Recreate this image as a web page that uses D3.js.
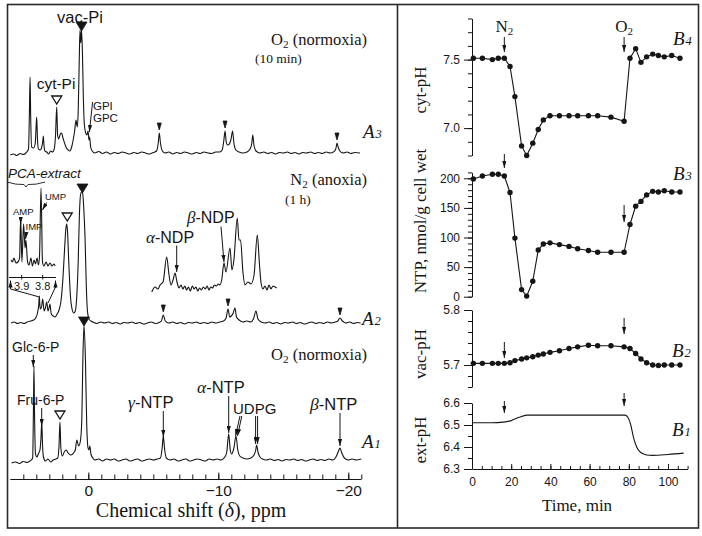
<!DOCTYPE html>
<html><head><meta charset="utf-8">
<script src="https://cdn.jsdelivr.net/npm/d3@7"></script>
<style>body{margin:0;background:#fff}svg{display:block}</style>
</head><body>
<svg id="c" width="702" height="536"></svg>
<script>
// ---------------- DATA ----------------
// 31P NMR spectra: [chemical shift (ppm), intensity (a.u.)]
const specA3 = [[6.0,-2],[5.75,-1],[5.5,-2.5],[5.25,-0.5],[5.0,-1.5],[4.8,0],[4.68,2],
 [4.6,4],[4.53,40],[4.48,76],[4.43,35],[4.36,6],[4.2,5],[4.08,10],[4.02,25],[3.97,36],[3.91,14],[3.84,4],
 [3.7,3],[3.6,5],[3.5,12],[3.46,17],[3.41,8],[3.34,2],[3.2,1],[3.05,-1],[2.9,2],[2.75,1],[2.62,4],
 [2.52,18],[2.43,46],[2.36,18],[2.28,14],[2.15,19],[2.05,20],[1.95,15],[1.85,11],[1.72,6],[1.55,3],[1.42,2],
 [1.28,6],[1.15,14],[1.05,22],[0.95,33],[0.85,26],[0.78,40],[0.7,90],[0.64,123],[0.58,110],[0.52,123],
 [0.45,100],[0.38,55],[0.3,28],[0.2,20],[0.1,18],[0.02,22],[-0.05,13],[-0.1,16],[-0.18,6],[-0.3,2],
 [-0.5,0],[-0.8,1.5],[-1.1,-0.5],[-1.4,1],[-1.7,-1],[-2.0,0.5],[-2.3,-0.5],[-2.6,1],[-2.9,0],[-3.2,-1],
 [-3.5,0.5],[-3.8,-0.5],[-4.1,1],[-4.4,0],[-4.7,-1],[-5.0,0.5],[-5.25,2],[-5.38,10],[-5.46,20],[-5.55,10],[-5.7,2],
 [-5.9,0],[-6.2,1],[-6.5,-1],[-6.8,0.5],[-7.1,-0.5],[-7.4,1],[-7.7,0],[-8.0,-1],[-8.3,0.5],[-8.6,-0.5],
 [-8.9,1],[-9.2,0],[-9.5,-0.5],[-9.8,1],[-10.1,1],[-10.3,3],[-10.42,12],[-10.52,22],[-10.6,12],[-10.7,8],
 [-10.85,9],[-10.98,14],[-11.1,22],[-11.2,10],[-11.35,3],[-11.6,1],[-11.9,0],[-12.2,1],[-12.45,4],[-12.58,10],
 [-12.65,18],[-12.74,8],[-12.9,2],[-13.2,0],[-13.5,1],[-13.8,-0.5],[-14.1,0.5],[-14.4,-1],[-14.7,0.5],[-15.0,0],
 [-15.3,1],[-15.6,-0.5],[-15.9,0.5],[-16.2,-1],[-16.5,0.5],[-16.8,0],[-17.1,1],[-17.4,-0.5],[-17.7,0.5],
 [-18.0,-0.5],[-18.3,1],[-18.6,0],[-18.85,1],[-19.0,3],[-19.07,6],[-19.13,10],[-19.22,6],[-19.35,2],
 [-19.6,0],[-19.9,1],[-20.2,-0.5],[-20.5,0.5],[-20.9,0]];

const specA2 = [[5.95,0],[5.7,1],[5.45,-0.5],[5.2,0.5],[4.95,-0.5],[4.7,1],[4.45,2],[4.2,3],
 [4.05,5],[3.88,12],[3.8,20],[3.77,27],[3.7,14],[3.6,16],[3.5,24],[3.4,12],[3.3,15],[3.2,21],[3.1,12],
 [3.02,15],[2.95,19],[2.85,9],[2.7,7],[2.55,6],[2.4,9],[2.25,13],[2.1,22],[1.95,45],[1.82,75],[1.72,95],
 [1.66,99],[1.6,92],[1.5,60],[1.38,28],[1.25,14],[1.12,10],[1.0,12],[0.88,28],[0.78,60],[0.68,110],
 [0.6,128],[0.52,131],[0.44,130],[0.35,115],[0.25,85],[0.15,35],[0.05,10],[-0.1,3],
 [-0.35,1],[-0.65,-0.5],[-0.95,1],[-1.25,0],[-1.55,1],[-1.85,-0.5],[-2.15,0.5],[-2.45,-1],[-2.75,0.5],
 [-3.05,0],[-3.35,1],[-3.65,-0.5],[-3.95,0.5],[-4.25,-1],[-4.55,0],[-4.85,1],[-5.15,-0.5],[-5.45,0.5],
 [-5.62,2],[-5.77,8],[-5.92,2],[-6.2,0],[-6.5,1],[-6.8,-0.5],[-7.1,0.5],[-7.4,-1],[-7.7,0.5],[-8.0,0],
 [-8.3,1],[-8.6,-0.5],[-8.9,0.5],[-9.2,-0.5],[-9.5,1],[-9.8,0],[-10.1,1],[-10.4,2],[-10.6,5],[-10.75,14],
 [-10.88,6],[-11.0,7],[-11.15,10],[-11.28,15],[-11.4,6],[-11.6,3],[-11.9,1],[-12.2,2],[-12.5,1],[-12.7,4],
 [-12.9,12],[-13.05,4],[-13.3,1],[-13.6,0],[-13.9,1],[-14.2,-0.5],[-14.5,0.5],[-14.8,-1],[-15.1,0.5],
 [-15.4,0],[-15.7,1],[-16.0,-0.5],[-16.3,0.5],[-16.6,-1],[-16.9,0],[-17.2,1],[-17.5,-0.5],[-17.8,0.5],
 [-18.1,-0.5],[-18.4,1],[-18.7,0],[-19.0,1],[-19.2,2],[-19.36,5],[-19.55,2],[-19.8,0],[-20.1,1],
 [-20.4,-0.5],[-20.7,0.5],[-20.95,0]];

const specA1 = [[5.9,-3],[5.6,-2],[5.3,-3.5],[5.0,-1.5],[4.7,-2.5],[4.5,-1],[4.38,0],
 [4.28,2],[4.22,50],[4.18,94],[4.14,50],[4.06,6],[3.95,3],[3.85,6],[3.72,10],[3.64,22],[3.58,38],
 [3.52,15],[3.45,3],[3.3,-1],[3.1,1],[2.9,-2],[2.7,0],[2.5,1],[2.35,2],[2.25,15],[2.18,38],[2.11,12],
 [2.0,4],[1.85,8],[1.7,10],[1.55,7],[1.35,5],[1.2,6],[1.0,10],[0.88,20],[0.75,14],[0.62,18],
 [0.5,40],[0.42,100],[0.33,135],[0.22,100],[0.12,35],[0.02,12],[-0.05,10],[-0.12,14],[-0.2,6],
 [-0.35,2],[-0.5,0],[-0.8,1],[-1.1,-1],[-1.4,1],[-1.7,0],[-2.0,1],[-2.3,-1],[-2.6,0],[-2.9,1],[-3.2,-1],
 [-3.5,0],[-3.8,1],[-4.1,-1],[-4.4,0],[-4.7,1],[-5.0,0],[-5.3,1],[-5.55,2],[-5.68,12],[-5.77,24],
 [-5.86,12],[-6.0,2],[-6.3,0],[-6.6,1],[-6.9,-1],[-7.2,0],[-7.5,1],[-7.8,-1],[-8.1,0],[-8.4,1],[-8.7,0],
 [-9.0,-1],[-9.3,1],[-9.6,0],[-9.9,1],[-10.2,0],[-10.5,3],[-10.65,8],[-10.8,26],[-10.92,10],[-11.02,6],
 [-11.2,12],[-11.36,24],[-11.5,10],[-11.65,4],[-11.9,2],[-12.2,1],[-12.5,2],[-12.75,5],[-12.88,10],
 [-12.95,15],[-13.05,8],[-13.2,3],[-13.4,1],[-13.7,0],[-14.0,1],[-14.3,-0.5],[-14.6,0.5],[-14.9,-1],
 [-15.2,0.5],[-15.5,0],[-15.8,1],[-16.1,-0.5],[-16.4,0.5],[-16.7,-1],[-17.0,0],[-17.3,1],[-17.6,-0.5],
 [-17.9,0.5],[-18.2,-0.5],[-18.5,1],[-18.8,0],[-19.05,3],[-19.25,9],[-19.36,12],[-19.5,7],[-19.7,2],
 [-20.0,0],[-20.3,1],[-20.6,0],[-21.0,1]];

// expanded NDP region of the anoxic spectrum
const insetNDP = [[-4.88,-2],[-5.13,3],[-5.36,1],[-5.52,5],[-5.75,8],[-6.03,33],[-6.21,15],[-6.36,5],
 [-6.52,10],[-6.67,17],[-6.82,8],[-6.98,2],[-7.13,5],[-7.28,1],[-7.42,4],[-7.56,0],[-7.7,3],[-7.85,-1],
 [-8.0,4],[-8.14,1],[-8.28,3],[-8.42,-1],[-8.56,2],[-8.7,0],[-8.85,3],[-9.0,1],[-9.14,4],[-9.28,0],
 [-9.42,3],[-9.56,2],[-9.7,5],[-9.85,4],[-10.0,6],[-10.13,5],[-10.26,10],[-10.44,27],[-10.59,18],
 [-10.9,42],[-11.05,20],[-11.2,30],[-11.46,72],[-11.59,50],[-11.71,50],[-11.9,17],[-12.05,5],[-12.28,8],
 [-12.52,6],[-12.75,15],[-13.0,55],[-13.17,25],[-13.28,8],[-13.44,1],[-13.59,4],[-13.75,0],[-13.9,5],
 [-14.05,1],[-14.2,4],[-14.49,2]];

// PCA-extract inset (3.95 - 3.74 ppm)
const insetPCA = [[3.951,8],[3.944,6],[3.937,10],[3.927,5],[3.918,6],[3.910,10],[3.905,50],[3.899,6],
 [3.891,44],[3.884,20],[3.880,28],[3.872,6],[3.865,3],[3.856,10],[3.849,2],[3.841,8],[3.834,4],
 [3.827,10],[3.820,3],[3.815,13],[3.808,80],[3.801,6],[3.794,2],[3.784,6],[3.775,2],[3.765,5],
 [3.756,2],[3.746,4],[3.741,2]];

const ppmMajorTicks = [0, -10, -20];
const ppmTickLabels = ["0", "\u221210", "\u221220"];
const pcaTicks = [3.9, 3.8];
const pcaTickLabels = ["3.9", "3.8"];

// Time course (min)
const times  = [0.7,5.3,10.4,13.4,16.5,19.4,21.9,25.3,27.9,31.0,33.8,36.4,39.8,44.6,49.5,53.9,59.4,64.1,70.9,77.6,80.6,83.5,86.2,89.1,92.2,95.1,98.1,101.9,106.1];
const cytPH  = [7.51,7.51,7.50,7.51,7.51,7.45,7.23,6.87,6.80,6.89,6.99,7.06,7.09,7.09,7.09,7.09,7.09,7.09,7.08,7.05,7.51,7.58,7.48,7.52,7.54,7.53,7.52,7.53,7.51];
const ntp    = [199,204,207,207,204,176,99,12,1,26,79,89,91,88,85,81,78,75,75,75,122,153,161,172,178,177,179,177,177];
const vacPH  = [5.703,5.703,5.703,5.703,5.703,5.704,5.708,5.711,5.713,5.715,5.718,5.720,5.723,5.726,5.730,5.733,5.736,5.735,5.735,5.733,5.730,5.721,5.711,5.704,5.700,5.699,5.700,5.700,5.700];
const extTimes = [0,10,16,20,24,28,40,60,78,79.5,81,82.5,84,85.5,87,89,92,100,108];
const extPH    = [6.51,6.51,6.513,6.52,6.535,6.545,6.545,6.545,6.545,6.535,6.50,6.44,6.40,6.38,6.37,6.364,6.362,6.366,6.372];
const gasTimes = [16.5, 77.6];
const timeTicks = [0,20,40,60,80,100];
const cytTicks = [7.0, 7.5], ntpTicks = [0,50,100,150,200], vacTicks = [5.7,5.8], extTicks = [6.3,6.4,6.5,6.6];

// ---------------- DRAW ----------------
const svg = d3.select('#c');
const SANS = '"Liberation Sans", Arial, Helvetica, sans-serif';
const SERIF = '"Liberation Serif", "Times New Roman", serif';
const INK = '#151515';

const defs = svg.append('defs');
defs.append('marker').attr('id','ah').attr('viewBox','0 0 10 10').attr('refX',10).attr('refY',5)
  .attr('markerWidth',7).attr('markerHeight',4.2).attr('markerUnits','userSpaceOnUse')
  .attr('orient','auto').attr('preserveAspectRatio','none')
  .append('path').attr('d','M0,0L10,5L0,10Z').attr('fill',INK);

function arrow(x1,y1,x2,y2){
  svg.append('line').attr('x1',x1).attr('y1',y1).attr('x2',x2).attr('y2',y2)
    .attr('stroke',INK).attr('stroke-width',1).attr('marker-end','url(#ah)');
}
function text(x,y,str,opt={}){
  const t = svg.append('text').attr('x',x).attr('y',y)
    .attr('font-family',opt.family||SANS).attr('font-size',opt.size||14)
    .attr('fill',INK).attr('text-anchor',opt.anchor||'start');
  if(opt.italic) t.attr('font-style','italic');
  if(opt.ls) t.attr('letter-spacing',opt.ls);
  t.text(str);
  return t;
}
function greekLabel(x,y,greek,rest,size,anchor){
  const t = svg.append('text').attr('x',x).attr('y',y).attr('font-family',SANS)
    .attr('font-size',size).attr('fill',INK).attr('text-anchor',anchor||'start');
  t.append('tspan').attr('font-family',SERIF).attr('font-style','italic').attr('font-size',size+1).text(greek);
  t.append('tspan').text(rest);
}
function gasLabel(xEnd,y,gas,rest,size){
  const t = svg.append('text').attr('x',xEnd).attr('y',y).attr('font-family',SERIF)
    .attr('font-size',size).attr('fill',INK).attr('text-anchor','end');
  t.append('tspan').text(gas);
  t.append('tspan').attr('font-size',size*0.68).attr('dy',3).text('2');
  t.append('tspan').attr('dy',-3).text(rest);
}
function panelLabel(x,y,L,n){
  const t = svg.append('text').attr('x',x).attr('y',y).attr('font-family',SERIF)
    .attr('font-style','italic').attr('fill',INK).attr('font-size',19);
  t.append('tspan').text(L);
  t.append('tspan').attr('font-size',12.5).attr('dx',1).text(n);
}

// frame
svg.append('rect').attr('x',7.5).attr('y',4.5).attr('width',691).attr('height',523.5)
  .attr('fill','none').attr('stroke','#2a2a2a').attr('stroke-width',1.6);
svg.append('line').attr('x1',397.5).attr('x2',397.5).attr('y1',4.5).attr('y2',528)
  .attr('stroke','#2a2a2a').attr('stroke-width',1.6);

// ===== LEFT PANEL: spectra =====
const xS = d3.scaleLinear().domain([6,-21]).range([10.3,361.3]);
const yA3 = d3.scaleLinear().domain([0,100]).range([153,53]);
const yA2 = d3.scaleLinear().domain([0,100]).range([323,223]);
const yA1 = d3.scaleLinear().domain([0,100]).range([460,360]);

function spec(data,xs,ys){
  svg.append('path').datum(data)
    .attr('d', d3.line().x(d=>xs(d[0])).y(d=>ys(d[1])).curve(d3.curveMonotoneX))
    .attr('fill','none').attr('stroke',INK).attr('stroke-width',1.1).attr('stroke-linejoin','round');
}
spec(specA3,xS,yA3); spec(specA2,xS,yA2); spec(specA1,xS,yA1);

// NDP inset
const yNDP = d3.scaleLinear().domain([0,100]).range([290,190]);
spec(insetNDP,xS,yNDP);
// PCA inset
const xPCA = d3.scaleLinear().domain([3.9,3.8]).range([21.7,42.7]);
const yPCA = d3.scaleLinear().domain([0,100]).range([268,168]);
spec(insetPCA,xPCA,yPCA);

// peak markers: filled (vac-Pi), open (cyt-Pi), small arrowheads
function tri(ppm,hVal,ys,w,h,filled,gap){
  const cx = xS(ppm), by = ys(hVal) - gap;
  svg.append('path').attr('d',`M${cx-w/2},${by-h}L${cx+w/2},${by-h}L${cx},${by}Z`)
    .attr('fill',filled?INK:'#fff').attr('stroke',INK).attr('stroke-width',filled?0.8:1.3)
    .attr('stroke-linejoin','miter');
}
const vacPeaks = [[0.52,123,yA3],[0.45,131,yA2],[0.33,135,yA1]];
const cytPeaks = [[2.43,46,yA3],[1.62,99,yA2],[2.18,38,yA1]];
const smallPeaks = [[-5.46,20,yA3],[-10.52,22,yA3],[-19.13,10,yA3],
                    [-5.77,8,yA2],[-10.75,14,yA2],[-19.36,5,yA2]];
vacPeaks.forEach(p=>tri(p[0],p[1],p[2],11,9,true,-1));
cytPeaks.forEach(p=>tri(p[0],p[1],p[2],10,8,false,3));
smallPeaks.forEach(p=>tri(p[0],p[1],p[2],4,7,true,3));

// x axis (left)
const axL = svg.append('g').attr('transform','translate(0,479.5)');
axL.call(d3.axisBottom(xS).tickValues(d3.range(5,-21.5,-1)).tickSize(-5).tickSizeOuter(0).tickFormat(''));
axL.call(g=>g.select('.domain').remove());
const axL2 = svg.append('g').attr('transform','translate(0,479.5)');
axL2.call(d3.axisBottom(xS).tickValues(ppmMajorTicks).tickSize(-7).tickSizeOuter(0)
  .tickPadding(5).tickFormat((d,i)=>ppmTickLabels[i]));
[axL,axL2].forEach(g=>{
  g.selectAll('line').attr('stroke',INK);
  g.selectAll('.domain').attr('stroke',INK).attr('d','M10.3,0H361.3');
  g.selectAll('text').attr('font-family',SANS).attr('font-size',15.5).attr('fill',INK);
});
const xt = svg.append('text').attr('x',191).attr('y',517).attr('text-anchor','middle')
  .attr('font-family',SERIF).attr('font-size',20).attr('fill',INK);
xt.append('tspan').text('Chemical shift (');
xt.append('tspan').attr('font-style','italic').text('\u03b4');
xt.append('tspan').text('), ppm');

// labels A3
text(80,23,'vac-Pi',{size:16.5,anchor:'middle'});
text(56,89,'cyt-Pi',{size:15.5,anchor:'middle'});
text(93,110,'GPI',{size:11.5});
text(93,122,'GPC',{size:11.5});
arrow(92.6,102,89.4,132);
gasLabel(367,45,'O',' (normoxia)',16.5);
text(255,63,'(10 min)',{family:SERIF,size:13.5});
panelLabel(363,138,'A','3');

// labels A2
gasLabel(367,185,'N',' (anoxia)',16.5);
text(285,204,'(1 h)',{family:SERIF,size:13.5});
panelLabel(362,325,'A','2');
text(8,178,'PCA-extract',{size:13.5,italic:true});
svg.append('path').attr('d','M7,182Q16,185 24,184.5L26,187L28,184.5Q36,185 45,182')
  .attr('fill','none').attr('stroke',INK).attr('stroke-width',0.9);
text(13,215,'AMP',{size:9.5});
text(25.5,230,'IMP',{size:9.5});
text(45,200,'UMP',{size:9.5});
arrow(20.7,217,20.7,224);
arrow(26.5,232,25.5,239);
arrow(46.5,202.5,42.5,210);
// PCA inset axis
svg.append('line').attr('x1',9).attr('x2',56).attr('y1',277.5).attr('y2',277.5).attr('stroke',INK);
pcaTicks.forEach((t,i)=>{
  svg.append('line').attr('x1',xPCA(t)).attr('x2',xPCA(t)).attr('y1',275).attr('y2',279.5).attr('stroke',INK);
  text(xPCA(t),289.5,pcaTickLabels[i],{size:11,anchor:'middle'});
});
arrow(10.5,289,10.5,280.5);
arrow(55.5,288,55.5,280.5);
svg.append('line').attr('x1',10.5).attr('y1',289).attr('x2',39.5).attr('y2',297).attr('stroke',INK);
svg.append('line').attr('x1',55.5).attr('y1',287).attr('x2',48).attr('y2',303).attr('stroke',INK);
greekLabel(146,243,'\u03b1','-NDP',16);
greekLabel(187,223,'\u03b2','-NDP',16);
arrow(176.7,245.5,176.7,272);
arrow(221,226.5,224,262);

// labels A1
gasLabel(367,360,'O',' (normoxia)',16.5);
panelLabel(362,448,'A','1');
text(12,352,'Glc-6-P',{size:14});
text(17,405,'Fru-6-P',{size:14});
arrow(33.3,355,33.3,367);
arrow(41.7,408,41.7,426);
greekLabel(128,408,'\u03b3','-NTP',16.5);
greekLabel(197,393,'\u03b1','-NTP',16.5);
text(233,414,'UDPG',{size:15});
greekLabel(310,410,'\u03b2','-NTP',16.5);
arrow(163.3,411,163.3,437);
arrow(228.7,396,228.7,433);
arrow(240,416,235.5,436);
arrow(241.8,416,237.5,436);
arrow(255.6,416,255.6,444);
arrow(257.6,416,257.6,444);
arrow(340,413,340,446);

// ===== RIGHT PANEL: time courses =====
const xT = d3.scaleLinear().domain([0,110]).range([472,687.6]);
const yB4 = d3.scaleLinear().domain([6.8,7.8]).range([155.5,18.5]);
const yB3 = d3.scaleLinear().domain([0,210]).range([296.7,172.4]);
const yB2 = d3.scaleLinear().domain([5.66,5.8]).range([387,310]);
const yB1 = d3.scaleLinear().domain([6.3,6.6]).range([469,403]);

function yAxis(ys,major,minor,fmt){
  const g1 = svg.append('g').attr('transform','translate(472,0)');
  g1.call(d3.axisLeft(ys).tickValues(minor).tickSize(4).tickSizeOuter(0).tickFormat(''));
  g1.select('.domain').remove();
  const g2 = svg.append('g').attr('transform','translate(472,0)');
  g2.call(d3.axisLeft(ys).tickValues(major).tickSize(8).tickSizeOuter(0).tickPadding(4).tickFormat(fmt));
  [g1,g2].forEach(g=>{
    g.selectAll('line').attr('stroke',INK);
    g.selectAll('.domain').attr('stroke',INK);
    g.selectAll('text').attr('font-family',SANS).attr('font-size',12).attr('fill',INK);
  });
}
yAxis(yB4,cytTicks,d3.range(6.8,7.801,0.1),d3.format('.1f'));
yAxis(yB3,ntpTicks,d3.range(0,211,10),d3.format('d'));
yAxis(yB2,vacTicks,d3.range(5.66,5.8001,0.02),d3.format('.1f'));
yAxis(yB1,extTicks,d3.range(6.3,6.6001,0.05),d3.format('.1f'));

const gx1 = svg.append('g').attr('transform','translate(0,469)');
gx1.call(d3.axisBottom(xT).tickValues(d3.range(0,111,5)).tickSize(-3).tickSizeOuter(0).tickFormat(''));
gx1.select('.domain').remove();
const gx2 = svg.append('g').attr('transform','translate(0,469)');
gx2.call(d3.axisBottom(xT).tickValues(timeTicks).tickSize(-5).tickSizeOuter(0).tickPadding(8));
[gx1,gx2].forEach(g=>{
  g.selectAll('line').attr('stroke',INK);
  g.selectAll('.domain').attr('stroke',INK);
  g.selectAll('text').attr('font-family',SANS).attr('font-size',12).attr('fill',INK);
});
text(577,511,'Time, min',{family:SERIF,size:17,anchor:'middle'});

function ytitle(y,str){
  svg.append('text').attr('transform',`translate(426,${y}) rotate(-90)`).attr('text-anchor','middle')
    .attr('font-family',SERIF).attr('font-size',17).attr('fill',INK).text(str);
}
ytitle(90,'cyt-pH'); ytitle(221,'NTP, nmol/g cell wet'); ytitle(354,'vac-pH'); ytitle(440,'ext-pH');

function series(ts,vals,ys,dots){
  const pts = ts.map((t,i)=>[t,vals[i]]);
  svg.append('path').datum(pts)
    .attr('d', d3.line().x(d=>xT(d[0])).y(d=>ys(d[1])).curve(dots?d3.curveLinear:d3.curveMonotoneX))
    .attr('fill','none').attr('stroke',INK).attr('stroke-width',1.1);
  if(dots) svg.append('g').selectAll('circle').data(pts).join('circle')
    .attr('cx',d=>xT(d[0])).attr('cy',d=>ys(d[1])).attr('r',2.7).attr('fill',INK);
}
series(times,cytPH,yB4,true);
series(times,ntp,yB3,true);
series(times,vacPH,yB2,true);
series(extTimes,extPH,yB1,false);

// gas switch arrows
const arrowY = [[[37,52],[37,52]],[[154,168],[205,222]],[[342,358],[318,334]],[[401,413],[393,406]]];
arrowY.forEach(pair=>pair.forEach((yy,i)=>arrow(xT(gasTimes[i]),yy[0],xT(gasTimes[i]),yy[1])));
const n2 = svg.append('text').attr('x',xT(gasTimes[0])).attr('y',32).attr('text-anchor','middle')
  .attr('font-family',SERIF).attr('font-size',17).attr('fill',INK);
n2.append('tspan').text('N'); n2.append('tspan').attr('font-size',11).attr('dy',3).text('2');
const o2 = svg.append('text').attr('x',xT(gasTimes[1])).attr('y',32).attr('text-anchor','middle')
  .attr('font-family',SERIF).attr('font-size',17).attr('fill',INK);
o2.append('tspan').text('O'); o2.append('tspan').attr('font-size',11).attr('dy',3).text('2');

panelLabel(673,45,'B','4');
panelLabel(673,180,'B','3');
panelLabel(672,357,'B','2');
panelLabel(672,436,'B','1');
</script>
</body></html>
